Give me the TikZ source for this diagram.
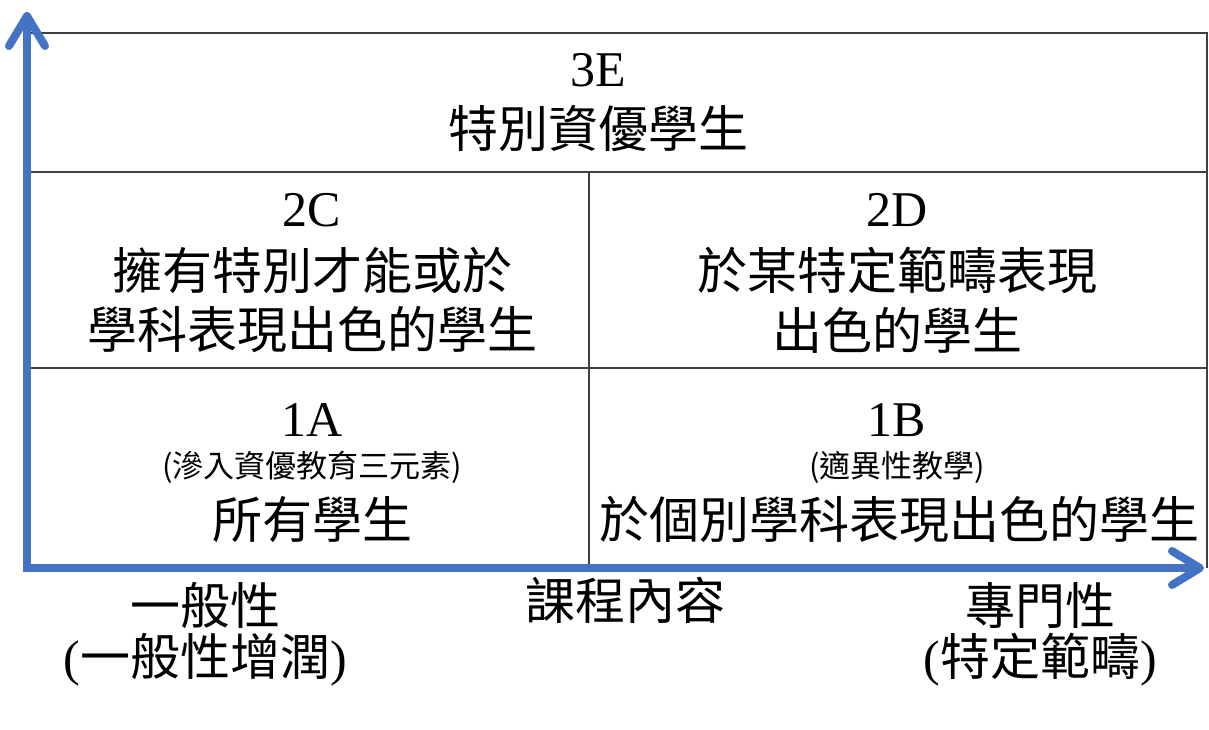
\documentclass[tikz,border=0pt]{standalone}
\usepackage{fontspec}
\setmainfont{Liberation Serif}
\newfontfamily\cjk{Noto Sans CJK TC}
\usetikzlibrary{arrows.meta}

\begin{document}
\begin{tikzpicture}[
        x=1pt, y=-1pt,
        big/.style={inner sep=0pt, font=\fontsize{50}{60}\selectfont},
        small/.style={inner sep=0pt, font=\fontsize{31}{36}\selectfont\cjk},
        grid/.style={line width=2.5pt, color=black!75},
        axis/.style={line width=8pt, color=axisblue, line join=miter,
            {Straight Barb[length=30pt,width=36pt,round]}-{Straight Barb[length=28pt,width=34pt,round]}},
    ]
    \definecolor{axisblue}{RGB}{68,114,196}
    \useasboundingbox (0,0) rectangle (1209,730);

    % Grid
    \coordinate (tl) at (29,33);
    \coordinate (tr) at (1207,33);
    \coordinate (br) at (1207,568);
    \draw[grid] (tl) -- (tr) -- (br);
    \draw[grid] (29,172) -- (1207,172);
    \draw[grid] (29,368) -- (1207,368);
    \draw[grid] (589,172) -- (589,568);

    % Axes
    \coordinate (origin) at (27,568);
    \coordinate (ytip) at (27,12);
    \coordinate (xtip) at (1204,568);
    \draw[axis] (ytip) -- (origin) -- (xtip);

    % Nodes
    \node[big] (codeE) at (598,70) {3E};
    \node[big] (textE) at (598,128) {\cjk 特別資優學生};

    \node[big] (codeC) at (312,210) {2C};
    \node[big] (textCa) at (312,270) {\cjk 擁有特別才能或於};
    \node[big] (textCb) at (312,330) {\cjk 學科表現出色的學生};

    \node[big] (codeD) at (897,210) {2D};
    \node[big] (textDa) at (897,270) {\cjk 於某特定範疇表現};
    \node[big] (textDb) at (897,330) {\cjk 出色的學生};

    \node[big] (codeA) at (312,420) {1A};
    \node[small] (noteA) at (312,467) {(滲入資優教育三元素)};
    \node[big] (textA) at (312,520) {\cjk 所有學生};

    \node[big] (codeB) at (897,420) {1B};
    \node[small] (noteB) at (897,467) {(適異性教學)};
    \node[big] (textB) at (899,520) {\cjk 於個別學科表現出色的學生};

    % Axis labels
    \node[big] (general) at (205,605) {\cjk 一般性};
    \node[big] (generalnote) at (205,660) {(\cjk 一般性增潤\normalfont)};
    \node[big] (content) at (625,600) {\cjk 課程內容};
    \node[big] (special) at (1040,605) {\cjk 專門性};
    \node[big] (specialnote) at (1040,660) {(\cjk 特定範疇\normalfont)};

\end{tikzpicture}
\end{document}
